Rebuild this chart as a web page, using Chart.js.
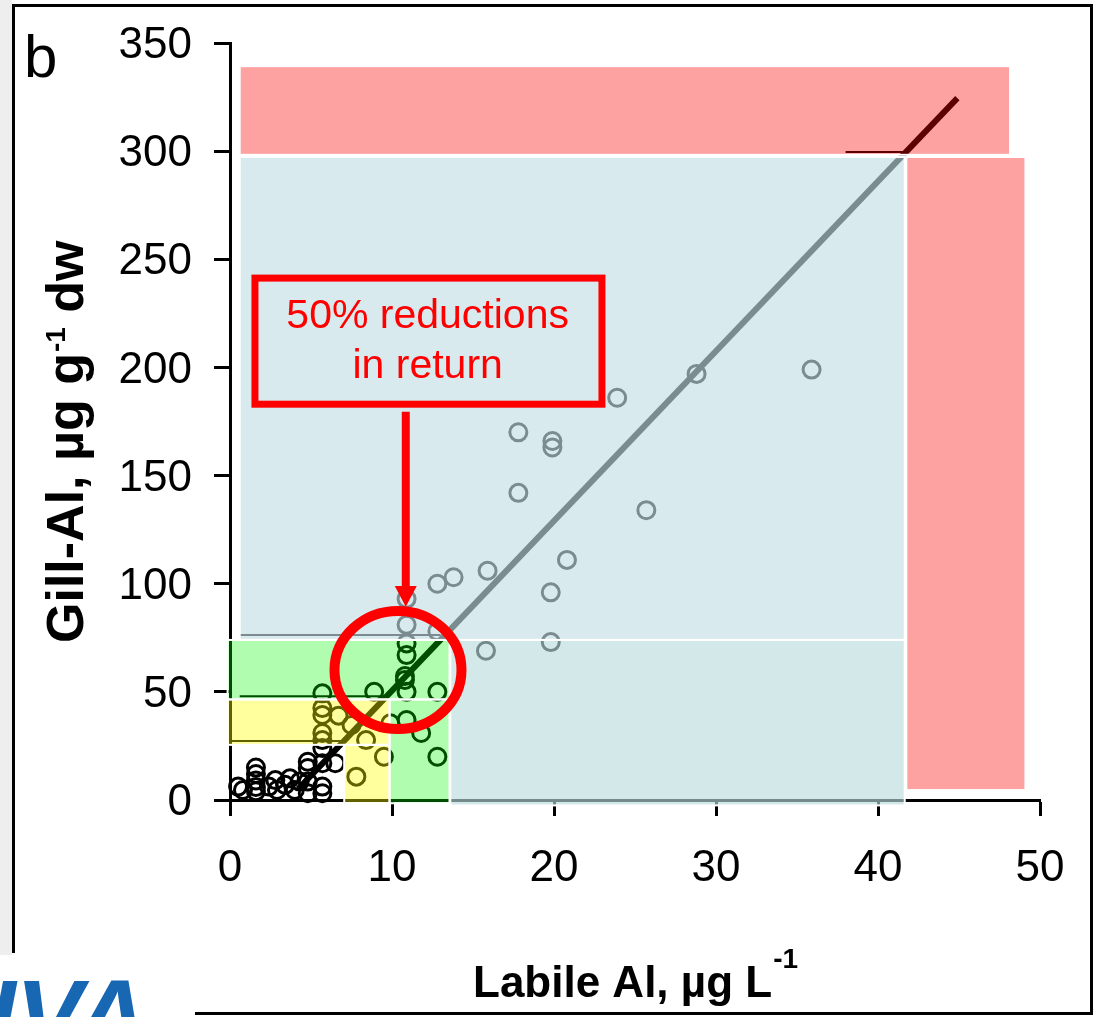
<!DOCTYPE html>
<html>
<head>
<meta charset="utf-8">
<script src="https://cdn.jsdelivr.net/npm/chart.js@4.4.1/dist/chart.umd.min.js"></script>
<style>
  html, body { margin: 0; padding: 0; background: #fff; }
  canvas { display: block; }
</style>
</head>
<body>
<canvas id="gillChart" width="1095" height="1017"></canvas>
<script>
// labile Al (ug/L) against gill Al (ug/g dw)
const lowX = [0.5, 0.8, 1.6, 1.6, 1.6, 1.6, 1.6, 2.4, 2.8, 2.9, 3.4, 3.7, 4.0, 4.3, 4.8, 4.8, 4.8, 4.8, 5.7, 5.7, 5.7, 5.7, 6.5];
const lowY = [6.2, 4.6, 15, 12, 9, 6, 4, 6.2, 9.2, 4.6, 7, 10, 4.6, 8.5, 8.5, 3.1, 14.8, 17.7, 6.2, 3.1, 17, 24, 17];

const midX = [5.7, 5.7, 5.7, 5.7, 6.7, 7.5, 8.4, 9.9, 9.5, 7.8];
const midY = [42.5, 39.3, 31, 27.7, 39, 34.7, 27.7, 35.5, 20, 10.8];

const highX = [5.7, 8.9, 10.9, 10.9, 10.8, 10.8, 10.9, 12.8, 10.9, 11.8, 12.8];
const highY = [49.3, 50, 72.4, 67, 57.3, 55.5, 50, 50, 37, 31, 20];

const topX = [10.9, 12.8, 10.9, 12.8, 13.8, 15.9, 15.8, 19.8, 19.8, 20.8, 25.7, 17.8, 17.8, 19.9, 19.9, 23.9, 28.8, 35.9];
const topY = [81, 78, 93, 100, 103, 106, 69, 73, 96, 111, 134, 142, 170, 166, 163, 186, 197, 199];

// fitted line end points
const fitX = [4.2, 44.9];
const fitY = [5, 324.5];

// levels on the fitted line
const levelY = [299.6, 76.3, 48, 27.3];
const levelFrom = [38, 0.6, 0.6, 0];
const levelTo = [41.6, 13, 9.85, 6.9];

const xTicks = [0, 10, 20, 30, 40, 50];
const yTicks = [0, 50, 100, 150, 200, 250, 300, 350];

// shaded zones [x0, x1, y0, y1]
const zoneBounds = [
  [0.6, 48.15, 298.3, 339.3],
  [41.75, 49.1, 4.6, 297.3],
  [0.6, 41.65, 74, 297.3],
  [13.6, 41.65, -2.5, 74],
  [-0.15, 13.55, 46.5, 74],
  [9.85, 13.55, -1.5, 46.5],
  [-0.15, 9.85, 25.5, 46.5],
  [7.05, 9.85, -1.5, 25.5]
];
const zoneColors = [
  'rgba(250,0,0,0.37)', 'rgba(250,0,0,0.37)',
  'rgba(193,222,227,0.63)', 'rgba(186,219,220,0.63)',
  'rgba(0,250,0,0.31)', 'rgba(0,250,0,0.31)',
  'rgba(255,255,0,0.38)', 'rgba(255,255,0,0.38)'
];

const toPts = (xs, ys) => xs.map((v, i) => ({ x: v, y: ys[i] }));

Chart.defaults.font.family = '"Liberation Sans", Arial, sans-serif';
Chart.defaults.color = '#000';

const pointSet = (xs, ys) => ({
  data: toPts(xs, ys),
  pointStyle: 'circle',
  pointRadius: 8.5,
  pointBorderWidth: 3,
  pointBorderColor: '#000',
  pointBackgroundColor: 'rgba(0,0,0,0)',
  showLine: false,
  clip: false
});

const lineSet = (xs, ys, w) => ({
  data: toPts(xs, ys),
  showLine: true,
  borderColor: '#000',
  borderWidth: w,
  pointRadius: 0,
  clip: false
});

const datasets = [
  lineSet(fitX, fitY, 6),
  ...levelY.map((v, i) => lineSet([levelFrom[i], levelTo[i]], [v, v], 2)),
  pointSet(lowX, lowY),
  pointSet(midX, midY),
  pointSet(highX, highY),
  pointSet(topX, topY)
];

const zonePlugin = {
  id: 'zones',
  afterDatasetsDraw(chart) {
    const { ctx, scales: { x, y } } = chart;
    const boxes = zoneBounds.map(b => {
      const l = x.getPixelForValue(b[0]), r = x.getPixelForValue(b[1]);
      const t = y.getPixelForValue(b[3]), bt = y.getPixelForValue(b[2]);
      return [l, t, r - l, bt - t];
    });
    ctx.save();
    boxes.forEach((b, i) => {
      ctx.fillStyle = zoneColors[i];
      ctx.fillRect(...b);
    });
    ctx.strokeStyle = '#fff';
    ctx.lineWidth = 2;
    boxes.forEach(b => ctx.strokeRect(...b));
    ctx.restore();
  }
};

const notePlugin = {
  id: 'notes',
  afterDraw(chart) {
    const { ctx, scales: { x, y } } = chart;
    const px = v => x.getPixelForValue(v), py = v => y.getPixelForValue(v);
    ctx.save();

    // red call-out
    ctx.strokeStyle = '#ff0000';
    ctx.fillStyle = '#ff0000';
    ctx.lineWidth = 7;
    ctx.strokeRect(px(1.54), py(241.3), px(22.96) - px(1.54), py(183) - py(241.3));
    ctx.font = '41px "Liberation Sans", Arial, sans-serif';
    ctx.textAlign = 'center';
    ctx.textBaseline = 'alphabetic';
    ctx.fillText('50% reductions', px(12.2), py(218.2));
    ctx.fillText('in return', px(12.2), py(195.1));

    // arrow
    const ax = px(10.85);
    ctx.lineWidth = 8;
    ctx.beginPath();
    ctx.moveTo(ax, py(179.5));
    ctx.lineTo(ax, py(99));
    ctx.stroke();
    ctx.beginPath();
    ctx.moveTo(ax - 11, py(99));
    ctx.lineTo(ax + 11, py(99));
    ctx.lineTo(ax, py(89.3));
    ctx.closePath();
    ctx.fill();

    // ring
    ctx.lineWidth = 10;
    ctx.beginPath();
    ctx.ellipse(px(10.37), py(60.1), px(10.37) - px(6.45), py(60.1) - py(87.4), 0, 0, Math.PI * 2);
    ctx.stroke();

    // axis titles
    ctx.fillStyle = '#000';
    ctx.textAlign = 'left';
    ctx.font = 'bold 44px "Liberation Sans", Arial, sans-serif';
    let tx = 473;
    ctx.fillText('Labile Al, \u00b5g L', tx, 997);
    tx += ctx.measureText('Labile Al, \u00b5g L').width + 1;
    ctx.font = 'bold 28px "Liberation Sans", Arial, sans-serif';
    ctx.fillText('-1', tx, 968);

    ctx.save();
    ctx.translate(83, 643);
    ctx.rotate(-Math.PI / 2);
    ctx.font = 'bold 52px "Liberation Sans", Arial, sans-serif';
    ctx.fillText('Gill-Al, \u00b5g g', 0, 0);
    let ty = ctx.measureText('Gill-Al, \u00b5g g').width + 1;
    ctx.font = 'bold 28px "Liberation Sans", Arial, sans-serif';
    ctx.fillText('-1', ty, -18);
    ty += ctx.measureText('-1').width;
    ctx.font = 'bold 52px "Liberation Sans", Arial, sans-serif';
    ctx.fillText(' dw', ty, 0);
    ctx.restore();

    // panel letter
    ctx.font = '60px "Liberation Sans", Arial, sans-serif';
    ctx.fillText('b', 24, 77);

    // frame
    ctx.fillStyle = '#eeeeee';
    ctx.fillRect(0, 0, 12, 955);
    ctx.strokeStyle = '#000';
    ctx.lineWidth = 3;
    ctx.beginPath();
    ctx.moveTo(13.5, 953);
    ctx.lineTo(13.5, 5.5);
    ctx.lineTo(1091.5, 5.5);
    ctx.lineTo(1091.5, 1013.5);
    ctx.lineTo(195, 1013.5);
    ctx.stroke();

    // logo fragment
    ctx.fillStyle = '#1767b3';
    ctx.font = 'italic bold 100px "Liberation Sans", Arial, sans-serif';
    ctx.fillText('IVA', -12, 1050);
    ctx.restore();
  }
};

new Chart(document.getElementById('gillChart'), {
  type: 'scatter',
  data: { datasets },
  options: {
    responsive: false,
    devicePixelRatio: 1,
    animation: false,
    layout: { padding: { top: 43, right: 55, left: 0, bottom: 0 } },
    plugins: { legend: { display: false }, tooltip: { enabled: false } },
    scales: {
      x: {
        type: 'linear',
        min: 0,
        max: 50,
        afterFit: s => { s.height = 217; s.paddingLeft = 0; s.paddingRight = 0; },
        afterBuildTicks: s => { s.ticks = xTicks.map(v => ({ value: v })); },
        ticks: { font: { size: 44 }, padding: 26, color: '#000' },
        grid: { drawOnChartArea: false, drawTicks: true, tickLength: 16, tickWidth: 3, tickColor: '#000' },
        border: { display: true, color: '#000', width: 3 }
      },
      y: {
        type: 'linear',
        min: 0,
        max: 350,
        afterFit: s => { s.width = 230; s.paddingTop = 0; s.paddingBottom = 0; },
        afterBuildTicks: s => { s.ticks = yTicks.map(v => ({ value: v })); },
        ticks: { font: { size: 44 }, padding: 22, labelOffset: 3, color: '#000' },
        grid: { drawOnChartArea: false, drawTicks: true, tickLength: 16, tickWidth: 3, tickColor: '#000' },
        border: { display: true, color: '#000', width: 3 }
      }
    }
  },
  plugins: [zonePlugin, notePlugin]
});
</script>
</body>
</html>
